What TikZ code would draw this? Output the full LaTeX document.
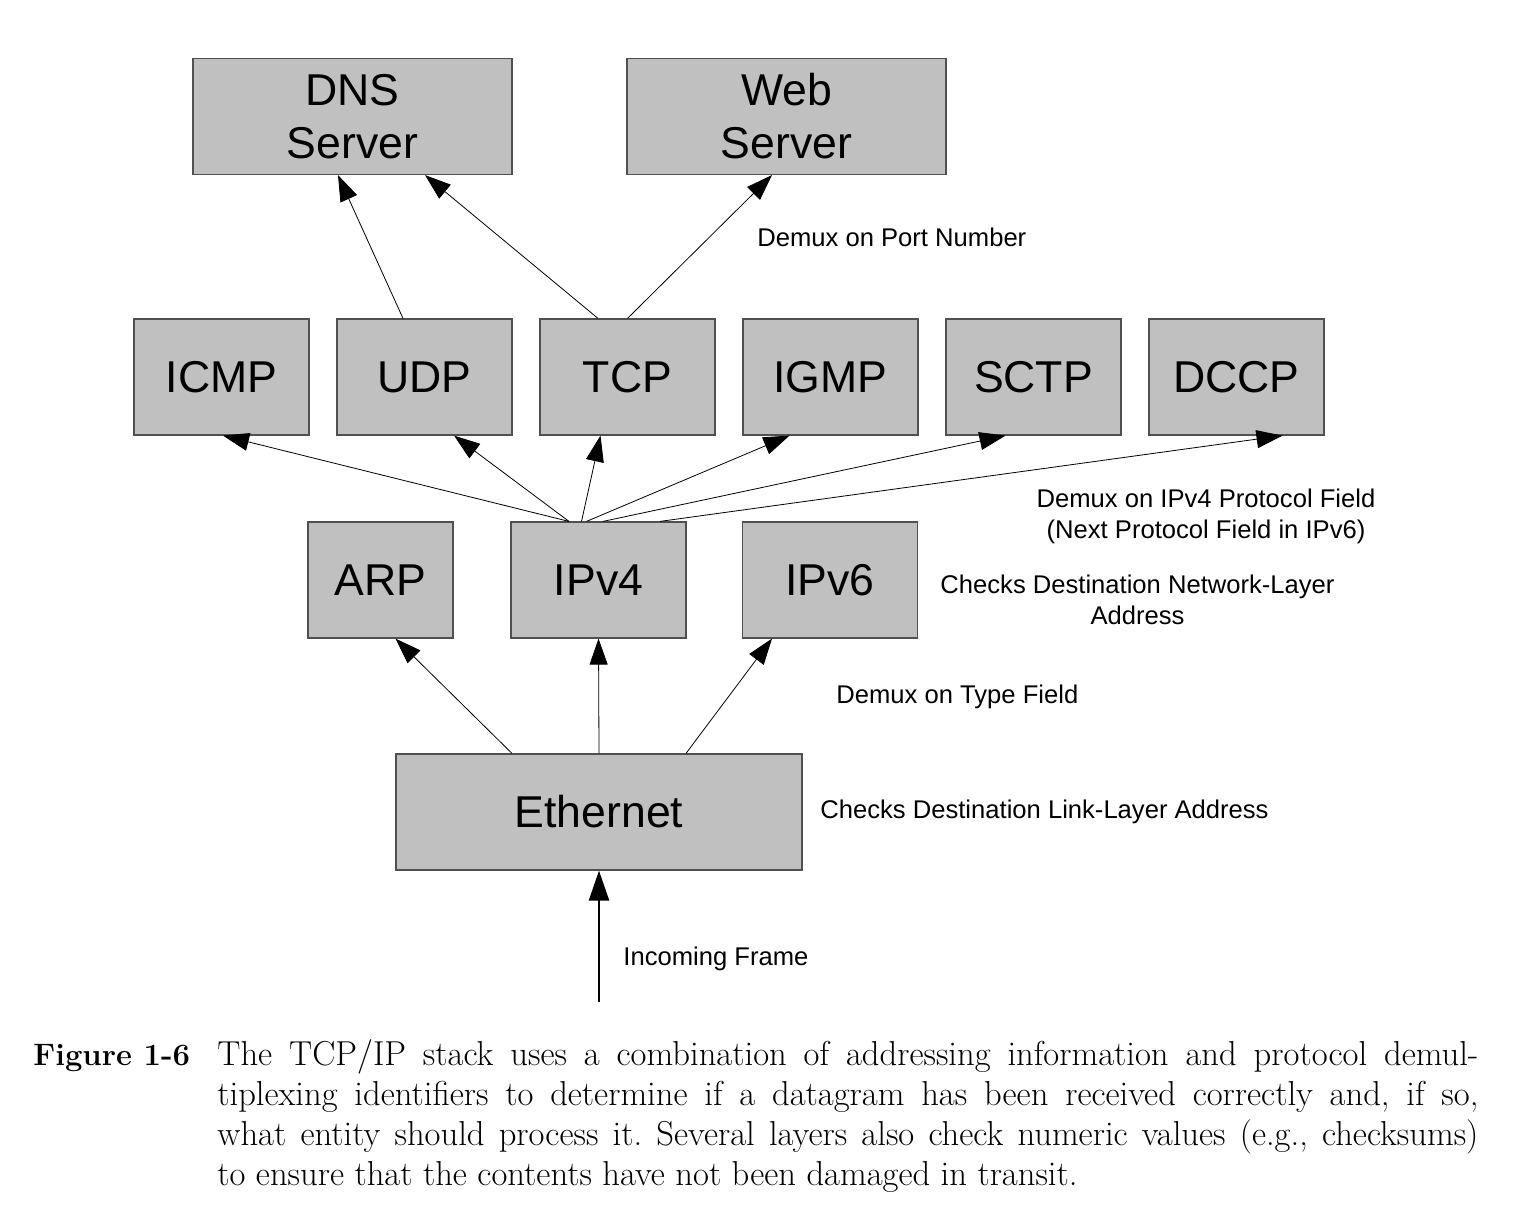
\documentclass[tikz,border=0pt]{standalone}
\usepackage{fontspec}
\newfontfamily\diafont{Liberation Sans}
\usepackage{tikz}
\usetikzlibrary{arrows.meta,calc}

\definecolor{boxfill}{RGB}{192,192,192}
\definecolor{boxline}{RGB}{80,80,80}

\begin{document}
\begin{tikzpicture}
  [
    x=0.5pt, y=-0.5pt,
    >={Triangle[length=13pt, width=9pt]},
    block/.style =
      {draw=boxline, fill=boxfill, line width=0.6pt, rectangle, align=center,
       minimum width=87.5pt, minimum height=58pt,
       font=\diafont\fontsize{22.3}{26.5}\selectfont},
    note/.style =
      {inner sep=0pt, align=center, font=\diafont\fontsize{12.8}{15.5}\selectfont},
    capt/.style =
      {inner sep=0pt, anchor=base west, font=\frenchspacing\fontsize{17.3}{20}\selectfont}
  ]
  \useasboundingbox (0,0) rectangle (1534,1208);

  \node [block, minimum width=159.5pt] at (352.5,116.5) (dns)  {DNS\\Server};
  \node [block, minimum width=159.5pt] at (786.5,116.5) (web)  {Web\\Server};
  \node [block]                        at (221.5,377)   (icmp) {ICMP};
  \node [block]                        at (424.5,377)   (udp)  {UDP};
  \node [block]                        at (627.5,377)   (tcp)  {TCP};
  \node [block]                        at (830.5,377)   (igmp) {IGMP};
  \node [block]                        at (1033.5,377)  (sctp) {SCTP};
  \node [block]                        at (1236.5,377)  (dccp) {DCCP};
  \node [block, minimum width=72.5pt]  at (380.5,580)   (arp)  {ARP};
  \node [block]                        at (598.5,580)   (ipv4) {IPv4};
  \node [block]                        at (830,580)     (ipv6) {IPv6};
  \node [block, minimum width=203pt]   at (599,812)     (eth)  {Ethernet};
  \coordinate (in) at (599,1002);

  \draw[->] ($(udp.north)+(-21.5,0)$)  -- ($(dns.south)+(-14.5,0)$);
  \draw[->] ($(tcp.north)+(-29.5,0)$)  -- ($(dns.south)+(72.5,0)$);
  \draw[->] (tcp.north)                -- ($(web.south)+(-14.5,0)$);
  \draw[->] ($(ipv4.north)+(-29.5,0)$) -- ($(icmp.south)+(1.5,0)$);
  \draw[->] ($(ipv4.north)+(-29.5,0)$) -- ($(udp.south)+(29.5,0)$);
  \draw[->] ($(ipv4.north)+(-17,0)$)   -- ($(tcp.south)+(-27,0)$);
  \draw[->] ($(ipv4.north)+(-12,0)$)   -- ($(igmp.south)+(-41,0)$);
  \draw[->] ($(ipv4.north)+(4.5,0)$)   -- ($(sctp.south)+(-28,0)$);
  \draw[->] ($(ipv4.north)+(61.5,0)$)  -- ($(dccp.south)+(46,0)$);
  \draw[->] ($(eth.north)+(-87,0)$)    -- ($(arp.south)+(15,0)$);
  \draw[->] (eth.north)                -- (ipv4.south);
  \draw[->] ($(eth.north)+(87,0)$)     -- ($(ipv6.south)+(-58,0)$);
  \draw[->, >={Triangle[length=15pt, width=10pt]}, line width=1.2pt]
            (in)                       -- (eth.south);

  \node [note, anchor=base west] at (757,247)    (port)  {Demux on Port Number};
  \node [note, anchor=base]      at (1206,538)   (proto) {Demux on IPv4 Protocol Field\\(Next Protocol Field in IPv6)};
  \node [note, anchor=base]      at (1137.5,624) (netck) {Checks Destination Network-Layer\\Address};
  \node [note, anchor=base west] at (836,703)    (type)  {Demux on Type Field};
  \node [note, anchor=base west] at (820,818)    (linck) {Checks Destination Link-Layer Address};
  \node [note, anchor=base west] at (623,965)    (frame) {Incoming Frame};

  % caption below the picture
  \node [capt, font=\fontsize{15.5}{20}\selectfont\bfseries] at (33,1065) (fig) {Figure 1-6};
  \node [capt, text width=630.5pt, align=justify] at (217,1065) (cap)
    {The TCP/IP stack uses a combination of addressing information and protocol demul-\linebreak
     tiplexing identifiers to determine if a datagram has been received correctly and, if so,\linebreak
     what entity should process it. Several layers also check numeric values (e.g., checksums)\linebreak
     to ensure that the contents have not been damaged in transit.};
\end{tikzpicture}
\end{document}
